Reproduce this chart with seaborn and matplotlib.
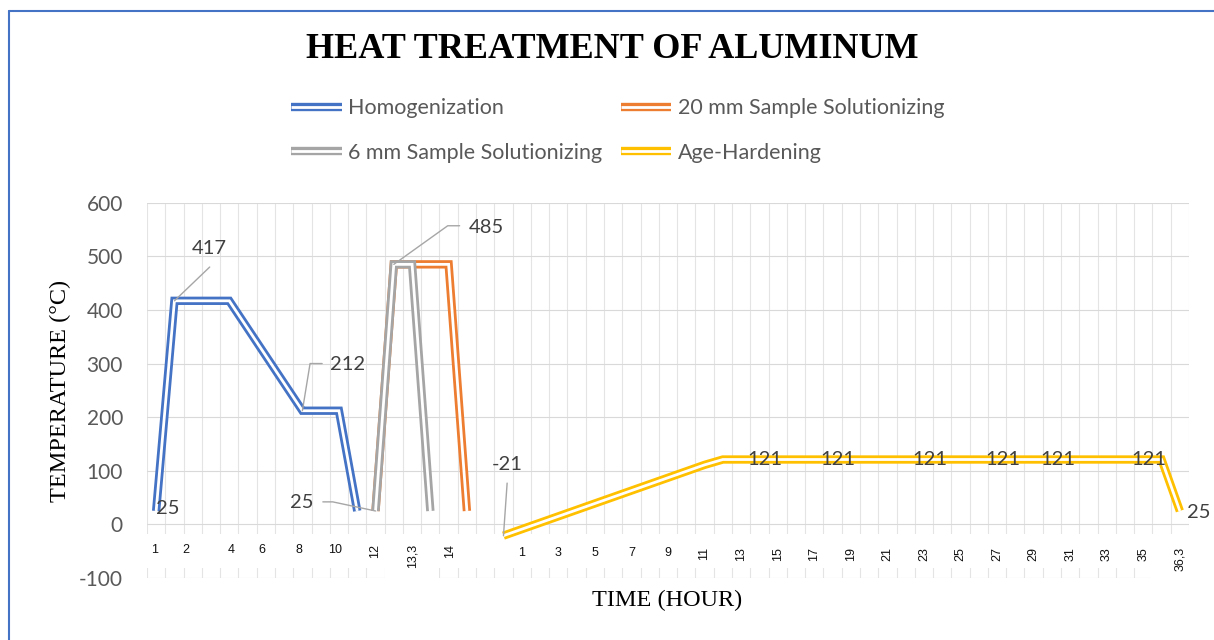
import matplotlib
matplotlib.use('Agg')
import matplotlib.pyplot as plt
import matplotlib.patheffects as pe
from matplotlib.lines import Line2D
from matplotlib.patches import Rectangle
import numpy as np
import pandas as pd
import seaborn as sns

# Series: position on the (category) time axis and temperature in degC
homog_x = [0, 1, 4, 8, 10, 11]
homog_y = [25, 417, 417, 212, 212, 25]
sol20_x = [12, 13, 16, 17]
sol20_y = [25, 485, 485, 25]
sol6_x = [12, 13, 14, 15]
sol6_y = [25, 485, 485, 25]
age_x = [19, 30, 31, 55, 56]
age_y = [-21, 111, 121, 121, 25]

series_names = ['Homogenization', '20 mm Sample Solutionizing',
                '6 mm Sample Solutionizing', 'Age-Hardening']
series_colors = ['#4472C4', '#ED7D31', '#A5A5A5', '#FFC000']

# hand typed time labels under the axis (category position, text)
left_pos = [-0.1, 1.65, 4.1, 5.8, 7.8, 9.8]
left_text = ['1', '2', '4', '6', '8', '10']
left_rot_pos = [12, 14.05, 16.1]
left_rot_text = ['12', '13,3', '14']
right_pos = [20, 22, 24, 26, 28]
right_text = ['1', '3', '5', '7', '9']
right_rot_pos = list(range(30, 57, 2))
right_rot_text = ['11', '13', '15', '17', '19', '21', '23', '25', '27',
                  '29', '31', '33', '35', '36,3']

# plateau points of the age hardening curve that carry a "121" label
age_label_pos = [33, 37, 42, 46, 49, 54]

frames = []
for name, xs, ys in zip(series_names,
                        [homog_x, sol20_x, sol6_x, age_x],
                        [homog_y, sol20_y, sol6_y, age_y]):
    frames.append(pd.DataFrame({'time': xs, 'temp': ys, 'series': name}))
df = pd.concat(frames, ignore_index=True)

sns.set_theme(style='white')
plt.rcParams['font.family'] = ['Lato', 'DejaVu Sans']
plt.rcParams['axes.unicode_minus'] = False

fig = plt.figure(figsize=(12.14, 6.4), dpi=100)
ax = fig.add_axes([147 / 1214, 62 / 640, 1042 / 1214, 375.3 / 640])


def double_line(color):
    return [pe.Stroke(linewidth=6, foreground=color),
            pe.Stroke(linewidth=2, foreground='white')]


for name, color in zip(series_names, series_colors):
    sub = df[df['series'] == name]
    sns.lineplot(data=sub, x='time', y='temp', color=color, lw=6,
                 estimator=None, sort=False, ax=ax, zorder=3,
                 solid_joinstyle='miter', solid_capstyle='butt',
                 path_effects=double_line(color))

ax.set_xlim(-0.5, 56.5)
ax.set_ylim(-100, 600)
ax.set_xticks(np.arange(-0.5, 56.6, 1))
ax.set_yticks(np.arange(-100, 601, 100))
ax.grid(True, axis='x', color='#e4e4e4', lw=0.8)
ax.grid(True, axis='y', color='#d9d9d9', lw=0.8)
ax.tick_params(axis='x', length=0, labelbottom=False)
ax.tick_params(axis='y', length=5.8, width=0.8, color='#d9d9d9',
               labelsize=15, labelcolor='#595959', pad=11.5)
ax.set_xlabel('')
ax.set_ylabel('')
sns.despine(ax=ax, left=True, bottom=True)

# white boxes behind the typed labels (cover the grid)
ax.add_patch(Rectangle((-0.5, -82), 57, 65, color='white', zorder=1,
                       lw=0))
ax.add_patch(Rectangle((12.5, -106), 3, 24, color='white', zorder=1,
                       lw=0, clip_on=False))
ax.add_patch(Rectangle((54.4, -106), 2.2, 24, color='white', zorder=1,
                       lw=0, clip_on=False))

tick_font = dict(family='Liberation Sans', fontsize=9, color='#111111',
                 zorder=5)
for p, t in zip(left_pos, left_text):
    ax.text(p, -47, t, ha='center', va='center', **tick_font)
for p, t in zip(left_rot_pos, left_rot_text):
    ax.text(p, -37, t, ha='center', va='top', rotation=90, **tick_font)
for p, t in zip(right_pos, right_text):
    ax.text(p, -53, t, ha='center', va='center', **tick_font)
for p, t in zip(right_rot_pos, right_rot_text):
    ax.text(p, -42, t, ha='center', va='top', rotation=90, **tick_font)

# data labels
lab = dict(fontsize=14.5, color='#404040', zorder=5)
lead = dict(color='#a6a6a6', lw=1, zorder=4)

ax.text(homog_x[0], homog_y[0] + 5, str(homog_y[0]), ha='left',
        va='center', **lab)
px, py = homog_x[1], homog_y[1]
ax.plot([px, px + 1.93], [py, py + 63], **lead)
ax.text(px + 1.9, py + 97, str(py), ha='center', va='center', **lab)
px, py = homog_x[3], homog_y[3]
ax.plot([px, px + 0.42, px + 1.08], [py, py + 88, py + 88], **lead)
ax.text(px + 1.5, py + 87, str(py), ha='left', va='center', **lab)
px, py = sol6_x[1], sol6_y[1]
ax.plot([px, px + 2.95, px + 3.6], [py, py + 72, py + 72], **lead)
ax.text(px + 4.1, py + 68, str(py), ha='left', va='center', **lab)
px, py = sol6_x[0], sol6_y[0]
ax.plot([px, px - 2.34, px - 2.88], [py, py + 17, py + 17], **lead)
ax.text(px - 3.4, py + 15, str(py), ha='right', va='center', **lab)
px, py = age_x[0], age_y[0]
ax.plot([px, px + 0.2], [py, py + 98], **lead)
ax.text(px + 0.2, py + 132, str(py), ha='center', va='center', **lab)
ax.text(age_x[-1] + 0.4, age_y[-1] - 2, str(age_y[-1]), ha='left',
        va='center', **lab)
for p in age_label_pos:
    ax.text(p + 0.3, age_y[2], str(age_y[2]), ha='center', va='center',
            **lab)

# legend with double line handles
order = [0, 2, 1, 3]
handles = [Line2D([], [], color=series_colors[i], lw=6,
                  solid_capstyle='butt',
                  path_effects=double_line(series_colors[i])) for i in order]
fig.legend(handles, [series_names[i] for i in order], loc='center',
           bbox_to_anchor=(0.509, 0.796), ncol=2, frameon=False,
           fontsize=15.5, handlelength=2.35, handletextpad=0.32,
           columnspacing=0.85, labelspacing=1.15, labelcolor='#595959',
           borderpad=0)

fig.text(612 / 1214, 1 - 50 / 640, 'HEAT TREATMENT OF ALUMINUM',
         family='Liberation Serif', fontweight='bold', fontsize=26,
         ha='center', va='center', color='black')
fig.text(60 / 1214, 1 - 391 / 640, 'TEMPERATURE (°C)',
         family='Liberation Serif', fontsize=17.5, rotation=90,
         ha='center', va='center', color='black')
fig.text(667 / 1214, 1 - 600 / 640, 'TIME (HOUR)',
         family='Liberation Serif', fontsize=17.5,
         ha='center', va='center', color='black')

# chart border (top and left edges visible in the crop)
fig.add_artist(Line2D([9 / 1214, 1], [1 - 11 / 640, 1 - 11 / 640],
                      transform=fig.transFigure, color='#4472C4', lw=1.5))
fig.add_artist(Line2D([9 / 1214, 9 / 1214], [0, 1 - 11 / 640],
                      transform=fig.transFigure, color='#4472C4', lw=1.5))

fig.savefig('out.png', dpi=100, facecolor='white')
